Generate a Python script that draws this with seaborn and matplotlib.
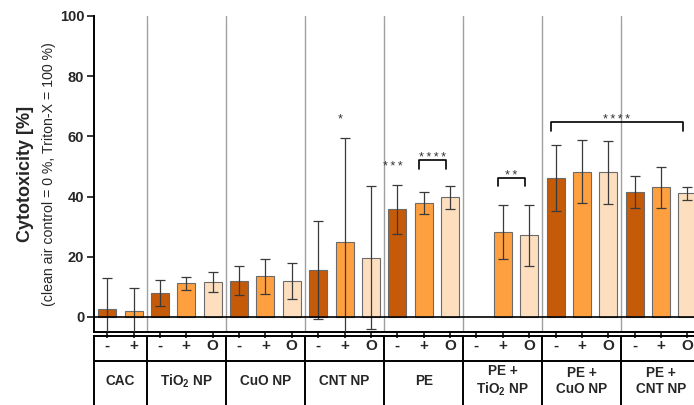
import numpy as np
import pandas as pd
import matplotlib
matplotlib.use("Agg")
import matplotlib.pyplot as plt
import seaborn as sns

# ---------------- data ----------------
groups = ["CAC", "TiO$_2$ NP", "CuO NP", "CNT NP", "PE",
          "PE +\nTiO$_2$ NP", "PE +\nCuO NP", "PE +\nCNT NP"]
group_treatments = [["-", "+"], ["-", "+", "O"], ["-", "+", "O"], ["-", "+", "O"],
                    ["-", "+", "O"], ["-", "+", "O"], ["-", "+", "O"], ["-", "+", "O"]]
means = [2.8, 1.9,
         8.0, 11.2, 11.6,
         12.1, 13.5, 12.0,
         15.7, 24.8, 19.7,
         35.8, 37.9, 39.8,
         np.nan, 28.2, 27.1,
         46.3, 48.3, 48.1,
         41.4, 43.1, 41.1]
sds = [10.0, 7.6,
       4.2, 2.1, 3.3,
       4.8, 5.9, 5.9,
       16.3, 34.8, 23.8,
       8.1, 3.7, 3.8,
       np.nan, 8.9, 10.1,
       11.0, 10.5, 10.5,
       5.3, 6.8, 2.2]
treatment_colors = {"-": "#C55A08", "+": "#FFA040", "O": "#FDDFBF"}
# significance: (first bar index, last bar index, stars, level)
brackets = [(12, 13, 4, 52.1), (15, 16, 2, 46.3), (17, 22, 4, 64.8)]
single_marks = [(9, 1, 63.5), (11, 3, 47.9)]
yticks = [0, 20, 40, 60, 80, 100]

# ---------------- table ----------------
rows = []
for g, trs in zip(groups, group_treatments):
    for t in trs:
        rows.append((g, t))
df = pd.DataFrame(rows, columns=["group", "treatment"])
df["slot"] = [f"{g}|{t}|{i}" for i, (g, t) in enumerate(rows)]
df["mean"] = means
df["sd"] = sds
order = list(df["slot"])
n = len(order)

sns.set_style("ticks")
plt.rcParams["font.family"] = ["Liberation Sans", "DejaVu Sans"]
plt.rcParams["mathtext.fontset"] = "custom"
plt.rcParams["mathtext.rm"] = "Liberation Sans"
plt.rcParams["mathtext.bf"] = "Liberation Sans:bold"
plt.rcParams["mathtext.default"] = "regular"

W, H = 694, 405
fig = plt.figure(figsize=(W / 100, H / 100), dpi=100)
ax_left, ax_right, ax_top, ax_bot = 94, 694, 16, 332
ax = fig.add_axes([ax_left / W, (H - ax_bot) / H, (ax_right - ax_left) / W, (ax_bot - ax_top) / H])
tb_top = 335.5
ax2 = fig.add_axes([ax_left / W, 0, (ax_right - ax_left) / W, (H - tb_top) / H])

sns.barplot(data=df, x="slot", y="mean", hue="treatment", order=order,
            hue_order=["-", "+", "O"], palette=treatment_colors, dodge=False,
            saturation=1, width=0.68, edgecolor="#6b6b6b", linewidth=0.8,
            errorbar=None, legend=False, ax=ax, zorder=2)
xpos = np.arange(n)
ax.errorbar(xpos, df["mean"], yerr=df["sd"], fmt="none", ecolor="#3a3a3a",
            elinewidth=0.9, capsize=3.3, capthick=0.9, zorder=3)

xlim = (-0.5, 22.25)
ax.set_xlim(*xlim)
ax.set_ylim(-5, 100)

# group separators
bounds = np.cumsum([len(t) for t in group_treatments])[:-1] - 0.5
for b in bounds:
    ax.axvline(b, color="#a0a0a0", lw=1.0, zorder=1)
ax.axhline(0, color="black", lw=1.2, zorder=4)

ax.set_yticks(yticks)
ax.set_yticklabels([str(v) for v in yticks], fontsize=10.5, fontweight="bold")
ax.set_xticks(xpos)
ax.set_xticklabels([])
ax.tick_params(axis="y", direction="out", length=5, width=1.3, pad=2)
ax.tick_params(axis="x", direction="out", length=4, width=1.3)
ax.set_xlabel("")
ax.set_ylabel("")
for s in ["top", "right"]:
    ax.spines[s].set_visible(False)
for s in ["left", "bottom"]:
    ax.spines[s].set_linewidth(1.4)
    ax.spines[s].set_color("black")

# significance marks
def stars(k):
    return "\u2009".join("*" * k)

off = -0.17
star_fs = 9
for i0, i1, k, y in brackets:
    x0, x1 = i0 + off, i1 + off
    ax.plot([x0, x0, x1, x1], [y - 2.9, y, y, y - 2.9], color="black", lw=1.2, zorder=5)
    ax.text((x0 + x1) / 2, y - 1.3, stars(k), ha="center", va="bottom",
            fontsize=star_fs, color="#333333")
for i, k, y in single_marks:
    ax.text(i + off, y, stars(k), ha="center", va="bottom", fontsize=star_fs,
            color="#333333")

# y label
cy = 1 - 174 / H
fig.text(25 / W, cy, "Cytotoxicity [%]", rotation=90, ha="center", va="center",
         fontsize=13, fontweight="bold")
fig.text(49 / W, cy, "(clean air control = 0 %, Triton-X = 100 %)", rotation=90,
         ha="center", va="center", fontsize=10.2)

# table under the axis
ax2.set_xlim(*xlim)
ax2.set_ylim(0, 1)
ax2.set_xticks([])
ax2.set_yticks([])
for s in ["bottom", "right"]:
    ax2.spines[s].set_visible(False)
for s in ["top", "left"]:
    ax2.spines[s].set_linewidth(1.4)
    ax2.spines[s].set_color("black")
ax2.patch.set_alpha(0)
div = (H - 361) / (H - tb_top)
ax2.axhline(div, color="black", lw=1.4)
for b in bounds:
    ax2.axvline(b, color="black", lw=1.4)
for i, t in enumerate(df["treatment"]):
    ax2.text(i, (H - 346) / (H - tb_top), t, ha="center", va="center",
             fontsize=11, fontweight="bold")
start = 0
for g, trs in zip(groups, group_treatments):
    c = start + (len(trs) - 1) / 2
    label = g.replace("$_2$", "$\\mathbf{_2}$")
    ax2.text(c, (H - 381) / (H - tb_top), label, ha="center", va="center",
             fontsize=9.8, fontweight="bold", linespacing=1.15)
    start += len(trs)

fig.savefig("out.png", dpi=100)
